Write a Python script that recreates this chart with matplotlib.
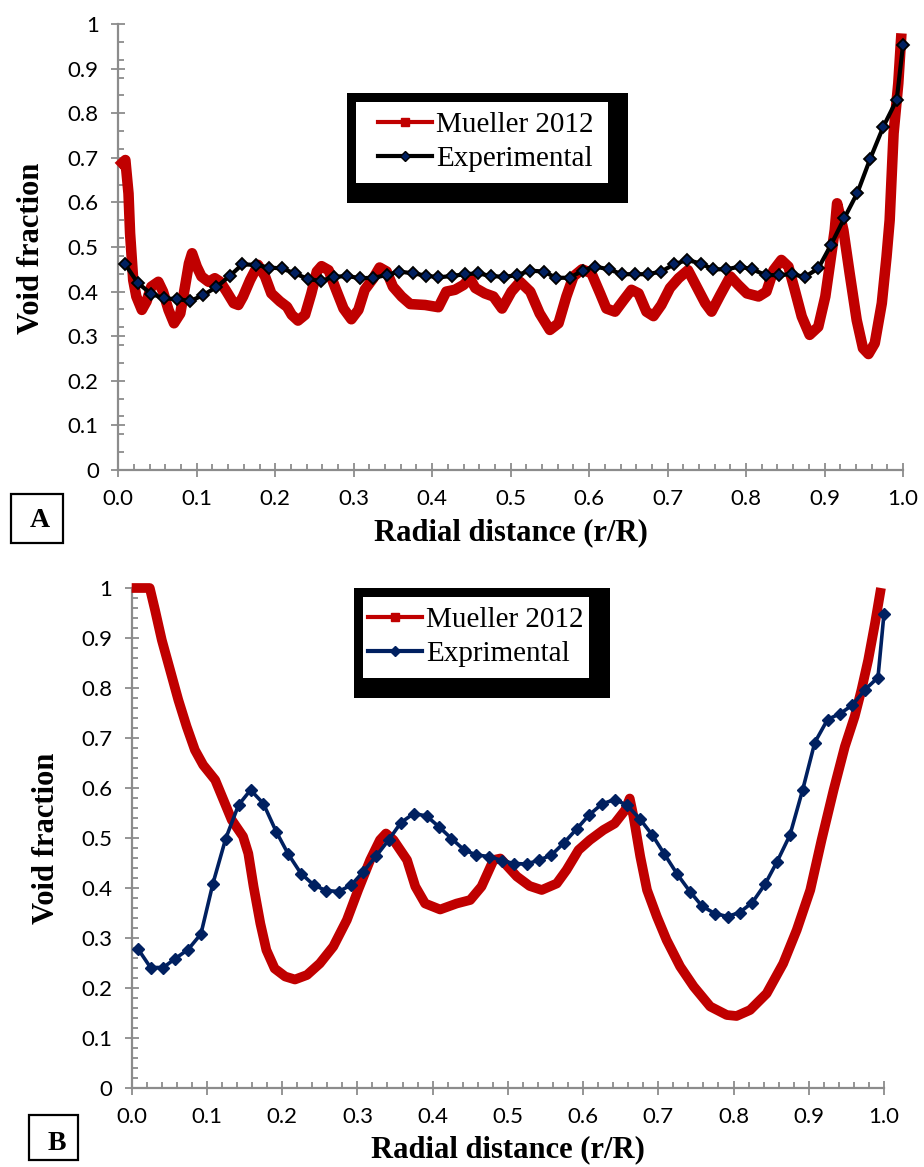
import matplotlib
matplotlib.use("Agg")
import matplotlib.pyplot as plt
from matplotlib.patches import Rectangle
from matplotlib.lines import Line2D
from matplotlib.ticker import MultipleLocator, FuncFormatter

# ---------------- data ----------------
# Panel A
mueller_a_x = [0.0, 0.009, 0.013, 0.015, 0.019, 0.023, 0.030, 0.036, 0.042, 0.051,
               0.057, 0.064, 0.071, 0.079, 0.085, 0.090, 0.094, 0.100, 0.106, 0.115,
               0.123, 0.130, 0.138, 0.147, 0.153, 0.159, 0.168, 0.178, 0.187, 0.195,
               0.206, 0.215, 0.221, 0.229, 0.238, 0.246, 0.253, 0.259, 0.268, 0.276,
               0.287, 0.297, 0.306, 0.314, 0.325, 0.333, 0.342, 0.350, 0.361, 0.372,
               0.391, 0.408, 0.418, 0.429, 0.440, 0.448, 0.455, 0.467, 0.478, 0.489,
               0.501, 0.512, 0.525, 0.537, 0.550, 0.561, 0.571, 0.580, 0.591, 0.603,
               0.614, 0.622, 0.633, 0.644, 0.654, 0.663, 0.673, 0.682, 0.692, 0.703,
               0.714, 0.726, 0.737, 0.748, 0.756, 0.767, 0.780, 0.790, 0.801, 0.816,
               0.826, 0.835, 0.845, 0.854, 0.862, 0.871, 0.881, 0.892, 0.901, 0.907,
               0.913, 0.916, 0.924, 0.932, 0.941, 0.949, 0.956, 0.964, 0.973, 0.979,
               0.983, 0.988, 0.994, 0.998]
mueller_a_y = [0.680, 0.695, 0.620, 0.531, 0.426, 0.389, 0.359, 0.378, 0.411, 0.422,
               0.400, 0.359, 0.329, 0.351, 0.411, 0.463, 0.486, 0.456, 0.434, 0.422,
               0.430, 0.422, 0.400, 0.374, 0.370, 0.389, 0.426, 0.460, 0.434, 0.396,
               0.378, 0.366, 0.348, 0.335, 0.348, 0.396, 0.445, 0.457, 0.448, 0.411,
               0.362, 0.338, 0.359, 0.404, 0.430, 0.454, 0.445, 0.411, 0.389, 0.372,
               0.370, 0.365, 0.400, 0.404, 0.415, 0.430, 0.408, 0.396, 0.389, 0.362,
               0.400, 0.422, 0.400, 0.351, 0.314, 0.329, 0.389, 0.434, 0.450, 0.441,
               0.396, 0.362, 0.355, 0.381, 0.404, 0.396, 0.355, 0.345, 0.370, 0.408,
               0.430, 0.448, 0.411, 0.374, 0.355, 0.392, 0.434, 0.415, 0.396, 0.389,
               0.400, 0.448, 0.471, 0.456, 0.404, 0.344, 0.303, 0.321, 0.389, 0.463,
               0.538, 0.598, 0.538, 0.441, 0.336, 0.273, 0.260, 0.284, 0.374, 0.478,
               0.560, 0.755, 0.867, 0.979]

exp_x = [0.008, 0.025, 0.042, 0.058, 0.075, 0.092, 0.108, 0.125, 0.142, 0.158,
         0.175, 0.192, 0.208, 0.225, 0.242, 0.258, 0.275, 0.292, 0.308, 0.325,
         0.342, 0.358, 0.375, 0.392, 0.408, 0.425, 0.442, 0.458, 0.475, 0.492,
         0.508, 0.525, 0.542, 0.558, 0.575, 0.592, 0.608, 0.625, 0.642, 0.658,
         0.675, 0.692, 0.708, 0.725, 0.742, 0.758, 0.775, 0.792, 0.808, 0.825,
         0.842, 0.858, 0.875, 0.892, 0.908, 0.925, 0.942, 0.958, 0.975, 0.992, 1.0]
exp_a_y = [0.463, 0.419, 0.395, 0.385, 0.383, 0.379, 0.392, 0.410, 0.435, 0.461,
           0.460, 0.454, 0.452, 0.441, 0.428, 0.424, 0.433, 0.435, 0.430, 0.431,
           0.437, 0.445, 0.441, 0.436, 0.432, 0.435, 0.439, 0.441, 0.435, 0.433,
           0.437, 0.447, 0.445, 0.431, 0.431, 0.447, 0.456, 0.450, 0.439, 0.439,
           0.439, 0.445, 0.461, 0.471, 0.463, 0.450, 0.450, 0.456, 0.450, 0.437,
           0.437, 0.439, 0.433, 0.452, 0.504, 0.564, 0.622, 0.697, 0.770, 0.830, 0.953]

# Panel B
mueller_b_x = [0.0, 0.024, 0.031, 0.040, 0.051, 0.062, 0.073, 0.084, 0.095, 0.111,
               0.122, 0.133, 0.148, 0.155, 0.162, 0.171, 0.179, 0.190, 0.204, 0.217,
               0.233, 0.250, 0.268, 0.286, 0.301, 0.317, 0.330, 0.338, 0.348, 0.366,
               0.377, 0.390, 0.410, 0.432, 0.450, 0.465, 0.481, 0.490, 0.512, 0.529,
               0.545, 0.565, 0.578, 0.594, 0.609, 0.627, 0.642, 0.656, 0.662, 0.667,
               0.676, 0.685, 0.698, 0.711, 0.729, 0.747, 0.769, 0.791, 0.804, 0.822,
               0.844, 0.866, 0.884, 0.902, 0.917, 0.933, 0.948, 0.961, 0.970, 0.979,
               0.988, 0.996]
mueller_b_y = [1.0, 1.0, 0.956, 0.896, 0.836, 0.776, 0.723, 0.676, 0.646, 0.616,
               0.576, 0.536, 0.503, 0.469, 0.403, 0.329, 0.276, 0.239, 0.223, 0.217,
               0.226, 0.249, 0.283, 0.336, 0.396, 0.456, 0.496, 0.509, 0.496, 0.456,
               0.403, 0.369, 0.357, 0.369, 0.376, 0.403, 0.456, 0.459, 0.423, 0.404,
               0.396, 0.409, 0.436, 0.476, 0.496, 0.516, 0.529, 0.556, 0.579, 0.543,
               0.463, 0.396, 0.343, 0.296, 0.243, 0.203, 0.163, 0.146, 0.144, 0.156,
               0.189, 0.249, 0.316, 0.396, 0.496, 0.596, 0.683, 0.743, 0.796, 0.856,
               0.929, 1.0]
exp_b_y = [0.279, 0.241, 0.241, 0.259, 0.277, 0.308, 0.409, 0.499, 0.566, 0.596,
           0.569, 0.513, 0.468, 0.429, 0.406, 0.395, 0.393, 0.406, 0.433, 0.464,
           0.497, 0.531, 0.549, 0.544, 0.523, 0.499, 0.476, 0.466, 0.463, 0.455,
           0.449, 0.448, 0.456, 0.466, 0.491, 0.519, 0.546, 0.568, 0.577, 0.566,
           0.539, 0.506, 0.468, 0.428, 0.393, 0.364, 0.349, 0.343, 0.351, 0.371,
           0.408, 0.453, 0.506, 0.597, 0.691, 0.737, 0.749, 0.766, 0.797, 0.821, 0.949]

label_mueller = "Mueller 2012"
label_exp_a = "Experimental"
label_exp_b = "Exprimental"
xlabel = "Radial distance (r/R)"
ylabel = "Void fraction"

# ---------------- style ----------------
RED = "#C00000"
NAVY = "#002060"
GRAY = "#8C8C8C"
W, H = 924, 1167
TICKFONT = ["Lato", "DejaVu Sans"]
SERIF = ["Liberation Serif", "DejaVu Serif"]

fig = plt.figure(figsize=(W / 100, H / 100), dpi=100)
fig.patch.set_facecolor("white")


def fx(px):
    return px / W


def fy(py):
    return 1 - py / H


def make_axes(left, right, top, bottom, yminor):
    ax = fig.add_axes([fx(left), fy(bottom), (right - left) / W, (bottom - top) / H])
    ax.set_xlim(0, 1)
    ax.set_ylim(0, 1)
    for s in ("top", "right"):
        ax.spines[s].set_visible(False)
    for s in ("left", "bottom"):
        ax.spines[s].set_color(GRAY)
        ax.spines[s].set_linewidth(1.6)
    ax.xaxis.set_major_locator(MultipleLocator(0.1))
    ax.xaxis.set_minor_locator(MultipleLocator(0.02))
    ax.yaxis.set_major_locator(MultipleLocator(0.1))
    ax.yaxis.set_minor_locator(MultipleLocator(yminor))
    ax.xaxis.set_major_formatter(FuncFormatter(lambda v, p: f"{v:.1f}"))
    ax.yaxis.set_major_formatter(FuncFormatter(lambda v, p: f"{round(v, 1):g}"))
    ax.tick_params(which="major", direction="inout", length=10, width=1.3, color=GRAY,
                   labelsize=16, pad=9)
    ax.tick_params(which="minor", direction="in", length=4.5, width=1.3, color=GRAY)
    for lab in ax.get_xticklabels() + ax.get_yticklabels():
        lab.set_family(TICKFONT)
    ax.set_facecolor("none")
    return ax


def legend_box(bl, bt, br, bb, wl, wt, wr, wb, handles, labels, cx, cy):
    fig.patches.append(Rectangle((fx(bl), fy(bb)), (br - bl) / W, (bb - bt) / H,
                                 transform=fig.transFigure, facecolor="black",
                                 edgecolor="none", zorder=5))
    fig.patches.append(Rectangle((fx(wl), fy(wb)), (wr - wl) / W, (wb - wt) / H,
                                 transform=fig.transFigure, facecolor="white",
                                 edgecolor="none", zorder=6))
    leg = fig.legend(handles, labels, loc="center", bbox_to_anchor=(fx(cx), fy(cy)),
                     frameon=False, prop={"family": SERIF, "size": 21},
                     handlelength=1.85, handletextpad=0.15, labelspacing=0.25,
                     borderpad=0.0)
    leg.set_zorder(7)
    return leg


def panel_tag(text, l, t, r, b, tx, ty):
    fig.patches.append(Rectangle((fx(l), fy(b)), (r - l) / W, (b - t) / H,
                                 transform=fig.transFigure, facecolor="white",
                                 edgecolor="black", linewidth=1.6))
    fig.text(fx(tx), fy(ty), text, ha="center", va="center", family=SERIF,
             fontweight="bold", fontsize=20)


# ---------------- Panel A ----------------
axA = make_axes(118.3, 903, 24, 470, 0.04)
axA.plot(mueller_a_x, mueller_a_y, color=RED, lw=7.6, solid_joinstyle="round",
         solid_capstyle="butt", clip_on=False, zorder=3)
axA.plot(exp_x, exp_a_y, color="black", lw=3.0, marker="D", markersize=6.5,
         markerfacecolor=NAVY, markeredgecolor="black", markeredgewidth=1.3,
         clip_on=False, zorder=4)

hA = [Line2D([], [], color=RED, lw=3, marker="s", markersize=6,
             markerfacecolor=RED, markeredgecolor=RED),
      Line2D([], [], color="black", lw=3, marker="D", markersize=5.5,
             markerfacecolor=NAVY, markeredgecolor="black")]
legend_box(347, 93, 628, 203, 356, 102, 608, 183, hA,
           [label_mueller, label_exp_a], 486, 142)

fig.text(fx(511), fy(533), xlabel, ha="center", va="center", family=SERIF,
         fontweight="bold", fontsize=22)
fig.text(fx(32), fy(248), ylabel, ha="center", va="center", rotation=90,
         family=SERIF, fontweight="bold", fontsize=22)
panel_tag("A", 11, 494, 63, 543, 40, 521)

# ---------------- Panel B ----------------
axB = make_axes(131.7, 884, 588, 1088, 0.02)
axB.plot(mueller_b_x, mueller_b_y, color=RED, lw=7.0, solid_joinstyle="round",
         solid_capstyle="butt", clip_on=False, zorder=3)
axB.plot(exp_x, exp_b_y, color=NAVY, lw=2.6, marker="D", markersize=6,
         markerfacecolor=NAVY, markeredgecolor=NAVY, clip_on=False, zorder=4)

hB = [Line2D([], [], color=RED, lw=3, marker="s", markersize=6,
             markerfacecolor=RED, markeredgecolor=RED),
      Line2D([], [], color=NAVY, lw=3, marker="D", markersize=5.5,
             markerfacecolor=NAVY, markeredgecolor=NAVY)]
legend_box(354, 588, 610, 698, 363, 597, 589, 678, hB,
           [label_mueller, label_exp_b], 476, 637)

fig.text(fx(508), fy(1150), xlabel, ha="center", va="center", family=SERIF,
         fontweight="bold", fontsize=22)
fig.text(fx(47), fy(838), ylabel, ha="center", va="center", rotation=90,
         family=SERIF, fontweight="bold", fontsize=22)
panel_tag("B", 29, 1115, 78, 1160, 57, 1144)

fig.savefig("out.png", dpi=100, facecolor="white")
